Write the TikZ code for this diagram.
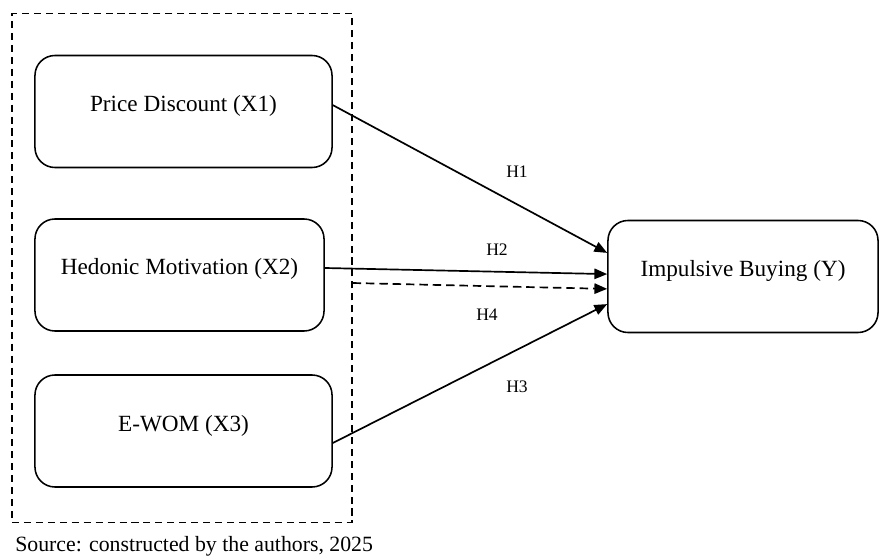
\documentclass[tikz,border=0pt]{standalone}
\usepackage{fontspec}
\setmainfont{Liberation Serif}
\usetikzlibrary{arrows.meta}

\begin{document}
\begin{tikzpicture}[x=0.025cm,y=-0.025cm,
  box/.style={draw,line width=1.1pt,rounded corners=0.5cm,inner sep=0pt,
    text height=1.4cm,text depth=1.4cm,font=\fontsize{16.5}{19}\selectfont},
  grp/.style={draw,dash pattern=on 5pt off 3.5pt,line width=0.8pt,inner sep=0pt},
  hyp/.style={line width=1.2pt,-{Triangle[length=3.2mm,width=2.6mm]}},
  hlab/.style={font=\fontsize{12.5}{14}\selectfont}]
\useasboundingbox (0,0) rectangle (880,557);

\node[grp,minimum width=8.5cm,minimum height=12.7cm] (g) at (182,268) {};
\node[box,minimum width=7.425cm] (x1) at (183.5,111.5) {Price Discount (X1)};
\node[box,minimum width=7.225cm] (x2) at (179.5,275) {Hedonic Motivation (X2)};
\node[box,minimum width=7.425cm] (x3) at (183.5,431) {E-WOM (X3)};
\node[box,minimum width=6.75cm] (y) at (743,276.5) {Impulsive Buying (Y)};

\draw[hyp] ([yshift=0.16cm]x1.east) -- ([yshift=0.59cm]y.west);
\draw[hyp] ([yshift=0.175cm]x2.east) -- ([yshift=0.06cm]y.west);
\draw[hyp,dash pattern=on 6pt off 3.5pt] ([yshift=-0.375cm]g.east) -- ([yshift=-0.31cm]y.west);
\draw[hyp] ([yshift=-0.3cm]x3.east) -- ([yshift=-0.69cm]y.west);

\node[hlab] (h1) at (517,172) {H1};
\node[hlab] (h2) at (497,250) {H2};
\node[hlab] (h4) at (487,315) {H4};
\node[hlab] (h3) at (517,387) {H3};

\node[anchor=base west,inner sep=0pt,font=\fontsize{15.5}{18}\selectfont] (src) at (15,551) {Source: constructed by the authors, 2025};
\end{tikzpicture}
\end{document}
